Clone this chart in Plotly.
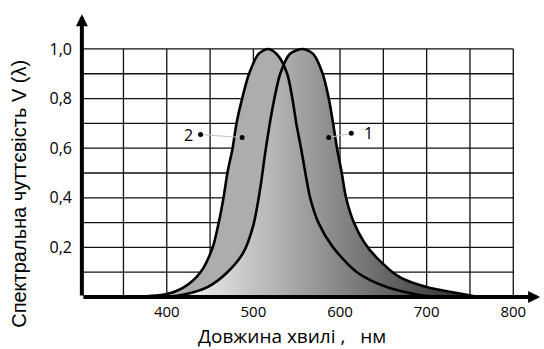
import plotly.graph_objects as go

# Крива 2 (скотопічна) та крива 1 (фотопічна)
wl_2 = [350, 380, 400, 420, 439, 453, 460, 465.5, 470, 476, 480.5, 487, 495, 506, 517,
        528, 539, 545, 549.5, 555, 560, 565.5, 575, 592, 619.5, 654, 692, 715]
v_2 = [0.0, 0.004, 0.012, 0.04, 0.10, 0.20, 0.30, 0.40, 0.50, 0.60, 0.70, 0.80, 0.90, 0.98, 1.0,
       0.975, 0.90, 0.80, 0.70, 0.60, 0.50, 0.40, 0.30, 0.20, 0.10, 0.04, 0.008, 0.0]

wl_1 = [400, 420, 447, 470, 488.5, 500, 508, 514, 522, 531, 542, 557, 569, 580, 587, 592,
        596.5, 602, 607, 616, 628, 642, 669, 700, 735, 760]
v_1 = [0.0, 0.01, 0.04, 0.10, 0.18, 0.29, 0.44, 0.59, 0.76, 0.90, 0.98, 1.0, 0.98, 0.90, 0.80, 0.70,
       0.60, 0.50, 0.40, 0.30, 0.22, 0.16, 0.08, 0.04, 0.016, 0.0]

# Сітка та підписи осей
grid_x = [350, 400, 450, 500, 550, 600, 650, 700, 750, 800]
grid_y = [0.1, 0.2, 0.3, 0.4, 0.5, 0.6, 0.7, 0.8, 0.9, 1.0]
x_ticks = [400, 500, 600, 700, 800]
y_ticks = [0.2, 0.4, 0.6, 0.8, 1.0]
y_ticktext = ['0,2', '0,4', '0,6', '0,8', '1,0']

# Виноски "1" і "2": (зовнішня точка, точка на кривій)
callout_labels = ['2', '1']
callout_outer_x = [439, 613]
callout_outer_y = [0.655, 0.66]
callout_inner_x = [487, 587]
callout_inner_y = [0.643, 0.643]

x_min, x_max = 302, 831
y_max = 1.14

fig = go.Figure()

# заливки
fig.add_trace(go.Scatter(x=wl_2, y=v_2, mode='lines', fill='tozeroy',
                         line=dict(width=0, shape='spline', smoothing=0.8),
                         fillcolor='#adadad', hoverinfo='skip'))
fig.add_trace(go.Scatter(x=wl_1, y=v_1, mode='lines', fill='tozeroy',
                         line=dict(width=0, shape='spline', smoothing=0.8),
                         fillgradient=dict(type='horizontal', start=400, stop=760,
                                           colorscale=[[0, '#ffffff'], [1, '#262626']]),
                         hoverinfo='skip'))
# контури
for wl, v in [(wl_2, v_2), (wl_1, v_1)]:
    fig.add_trace(go.Scatter(x=wl, y=v, mode='lines',
                             line=dict(color='black', width=2.6, shape='spline', smoothing=0.8),
                             hoverinfo='skip'))

# виноски
for i, lab in enumerate(callout_labels):
    fig.add_trace(go.Scatter(x=[callout_outer_x[i], callout_inner_x[i]],
                             y=[callout_outer_y[i], callout_inner_y[i]],
                             mode='lines', line=dict(color='#c4c4c4', width=1), hoverinfo='skip'))
    fig.add_trace(go.Scatter(x=[callout_outer_x[i], callout_inner_x[i]],
                             y=[callout_outer_y[i], callout_inner_y[i]],
                             mode='markers', marker=dict(color='black', size=5), hoverinfo='skip'))
    fig.add_annotation(x=callout_outer_x[i], y=callout_outer_y[i], text=lab, showarrow=False,
                       xanchor='right' if lab == '2' else 'left', xshift=-6 if lab == '2' else 11,
                       font=dict(family='Open Sans', size=16, color='black'))

# сітка
for gx in grid_x:
    fig.add_shape(type='line', x0=gx, x1=gx, y0=0, y1=1.0, layer='below',
                  line=dict(color='#111111', width=1.3))
for gy in grid_y:
    fig.add_shape(type='line', x0=x_min, x1=800, y0=gy, y1=gy, layer='below',
                  line=dict(color='#111111', width=1.3))

# осі зі стрілками
fig.add_annotation(x=x_min, y=y_max, ax=x_min, ay=0, xref='x', yref='y', axref='x', ayref='y',
                   text='', showarrow=True, arrowhead=2, arrowsize=0.6, arrowwidth=4, arrowcolor='black')
fig.add_annotation(x=x_max, y=0, ax=x_min, ay=0, xref='x', yref='y', axref='x', ayref='y',
                   text='', showarrow=True, arrowhead=2, arrowsize=0.6, arrowwidth=4, arrowcolor='black')

# підписи осей
fig.add_annotation(text='Довжина хвилі ,\u00a0\u00a0 нм', xref='paper', yref='paper',
                   x=0.4587, y=-0.136, xanchor='center', yanchor='middle',
                   showarrow=False, font=dict(family='Open Sans', size=19, color='black'))
fig.add_annotation(text='Спектральна чуттєвість V (λ)', xref='paper', yref='paper', x=-0.135, y=0.363,
                   xanchor='center', yanchor='middle',
                   textangle=-90, showarrow=False, font=dict(family='Liberation Sans', size=20, color='black'))

fig.update_layout(
    width=544, height=349,
    margin=dict(l=81, r=3, t=13, b=52),
    paper_bgcolor='white', plot_bgcolor='white',
    showlegend=False,
    xaxis=dict(range=[x_min - 1, x_max + 1], showgrid=False, zeroline=False, showline=False,
               tickvals=x_ticks, ticks='', ticklabelstandoff=4,
               tickfont=dict(family='Open Sans', size=15, color='black')),
    yaxis=dict(range=[0, y_max + 0.005], showgrid=False, zeroline=False, showline=False,
               tickvals=y_ticks, ticktext=y_ticktext, ticks='', ticklabelstandoff=8,
               tickfont=dict(family='Open Sans', size=16, color='black')),
)

fig.write_html("out.html", config={'displayModeBar': False},
               post_script="document.body.style.margin='0';")
